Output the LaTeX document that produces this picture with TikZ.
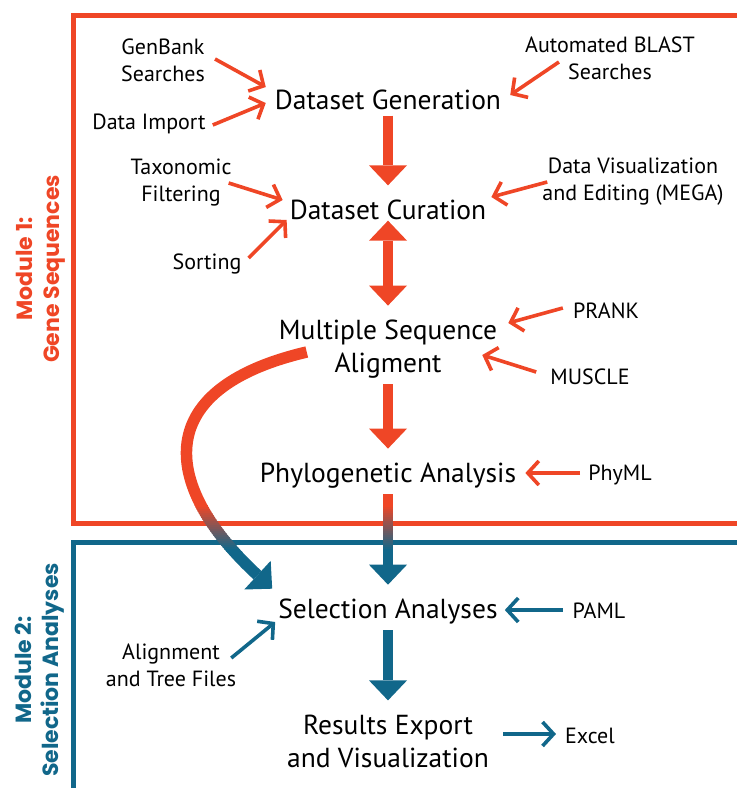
\documentclass[tikz,border=0pt]{standalone}
\usepackage{fontspec}
\setmainfont{PT Sans}
\newfontfamily\modulefont{Poppins}
\usetikzlibrary{arrows.meta}

\definecolor{modred}{RGB}{239,70,38}
\definecolor{modblue}{RGB}{17,103,138}

% the two connectors that leave module 1 for module 2
\newcommand\handoff[1]{%
  \draw[big, #1] (phylo) -- (sel);
  \draw[sweep, #1] ([shift={(28,3)}]msa.west)
    .. controls (145,390) and (165,490) .. ([shift={(-6,-10)}]sel.north west);
}

\begin{document}
\begin{tikzpicture}[
    x=1pt, y=-1pt,
    stage/.style={align=center, inner sep=0pt, font=\fontsize{27.5}{33}\selectfont},
    tool/.style={align=center, inner sep=0pt, font=\fontsize{22}{27}\selectfont},
    module/.style={align=center, inner sep=0pt, rotate=90,
                   font=\modulefont\bfseries\fontsize{22}{27}\selectfont},
    big/.style={line width=10pt, -{Triangle[length=20pt,width=38pt,line width=0pt]},
                shorten <=6pt, shorten >=14pt},
    twoway/.style={big, {Triangle[length=20pt,width=38pt,line width=0pt]}-{Triangle[length=20pt,width=38pt,line width=0pt]},
                   shorten <=1pt},
    sweep/.style={line width=11.5pt, -{Triangle[length=20pt,width=39pt,line width=0pt]}},
    feed/.style={line width=3.6pt, modred, -{Straight Barb[length=11pt,width=24pt]}},
    feedb/.style={feed, modblue}
]
\useasboundingbox (0,0) rectangle (737,788);

% module frames
\draw[modred, line width=5pt]  (73,15)  rectangle (760,523);
\draw[modblue, line width=5pt] (73,542) rectangle (760,830);

\node[module, text=modred]  (mod1) at (41,269) {Module 1:\\Gene Sequences};
\node[module, text=modblue] (mod2) at (40,670) {Module 2:\\Selection Analyses};

% main pipeline
\node[stage] (gen)   at (388,99.5)  {Dataset Generation};
\node[stage] (cur)   at (388,209.5) {Dataset Curation};
\node[stage] (msa)   at (388,349)   {Multiple Sequence\\Aligment};
\node[stage] (phylo) at (388,475.5) {Phylogenetic Analysis};
\node[stage] (sel)   at (388,611.5) {Selection Analyses};
\node[stage] (res)   at (388,741)   {Results Export\\and Visualization};

% tools and inputs
\node[tool] (gb)     at (163,60.5)  {GenBank\\Searches};
\node[tool] (imp)    at (149,124)   {Data Import};
\node[tool] (blast)  at (610,58.5)  {Automated BLAST\\Searches};
\node[tool] (tax)    at (181,183)   {Taxonomic\\Filtering};
\node[tool] (sort)   at (207,264)   {Sorting};
\node[tool] (mega)   at (633,182)   {Data Visualization\\and Editing (MEGA)};
\node[tool] (prank)  at (606,311)   {PRANK};
\node[tool] (muscle) at (590,377)   {MUSCLE};
\node[tool] (phyml)  at (620,475)   {PhyML};
\node[tool] (paml)   at (599,611)   {PAML};
\node[tool] (aln)    at (171,665.5) {Alignment\\and Tree Files};
\node[tool] (excel)  at (590,736)   {Excel};

\draw[big, modred]    (gen) -- (cur);
\draw[twoway, modred] (cur) -- (msa);
\draw[big, modred]    (msa) -- (phylo);
\draw[big, modblue]   (sel) -- (res);

% red to blue across the frame border
\begin{scope}
  \clip (0,0) rectangle (737,505.5);
  \handoff{modred}
\end{scope}
\foreach \k in {0,...,22}{
  \pgfmathtruncatemacro\pc{100-100*\k/22}
  \begin{scope}
    \clip (0,505+2*\k) rectangle (737,507.6+2*\k);
    \handoff{modred!\pc!modblue}
  \end{scope}
}
\begin{scope}
  \clip (0,551) rectangle (737,788);
  \handoff{modblue}
\end{scope}

\draw[feed] ([shift={(10,-1.5)}]gb.east)    -- ([shift={(-9,-12.5)}]gen.west);
\draw[feed] ([shift={(7,1)}]imp.east)       -- ([shift={(-9,3.5)}]gen.west);
\draw[feed] ([shift={(34,3.5)}]blast.west)  -- ([shift={(9,-4.5)}]gen.east);
\draw[feed] ([shift={(-3,0)}]tax.east)      -- ([shift={(-7,-9.5)}]cur.west);
\draw[feed] ([shift={(7,-6)}]sort.east)     -- ([shift={(-3,10.5)}]cur.west);
\draw[feed] ([shift={(5,0)}]mega.west)      -- ([shift={(5,-12.5)}]cur.east);
\draw[feed] ([shift={(-10,-3)}]prank.west)  -- ([shift={(11,-26)}]msa.east);
\draw[feed] ([shift={(-14,-5)}]muscle.west) -- ([shift={(-15,6)}]msa.east);
\draw[feed] ([shift={(-8,-2)}]phyml.west)   -- ([shift={(9,-2.5)}]phylo.east);
\draw[feedb] ([shift={(-10,-1)}]paml.west)  -- ([shift={(7,-1.5)}]sel.east);
\draw[feedb] ([shift={(-5,-7.5)}]aln.east)  -- ([shift={(-3,10.5)}]sel.west);
\draw[feedb] ([shift={(14,-7)}]res.east)    -- ([shift={(-9,-2)}]excel.west);

\end{tikzpicture}
\end{document}
